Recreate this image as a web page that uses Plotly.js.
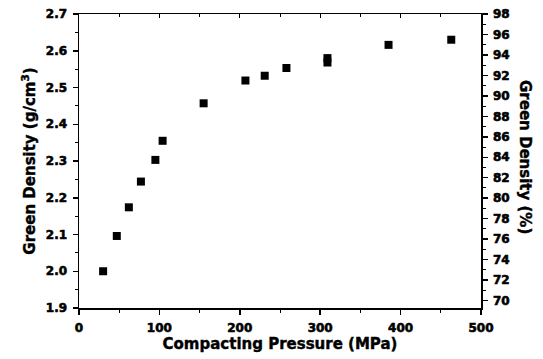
<!DOCTYPE html>
<html>
<head>
<meta charset="utf-8">
<script src="https://cdn.plot.ly/plotly-3.0.1.min.js"></script>
<style>
html,body{margin:0;padding:0;background:#fff;}
#chart{width:543px;height:359px;}
#chart text{font-weight:bold !important;}
#chart .xtick text, #chart .ytick text, #chart .y2tick text{stroke:#000;stroke-width:0.6px;}
#chart .g-xtitle text, #chart .g-ytitle text, #chart .annotation text{stroke:#000;stroke-width:0.4px;}
</style>
</head>
<body>
<div id="chart"></div>
<script>
const pressure = [30, 47, 62, 77, 95, 104, 155, 207, 231, 258, 309, 309, 385, 463];
const density  = [2.000, 2.096, 2.174, 2.244, 2.303, 2.355, 2.457, 2.519, 2.532, 2.553, 2.568, 2.580, 2.616, 2.630];
const xTicks = [0, 100, 200, 300, 400, 500];
const yTicksLeft = [1.9, 2.0, 2.1, 2.2, 2.3, 2.4, 2.5, 2.6, 2.7];
const yTicksRight = [70, 72, 74, 76, 78, 80, 82, 84, 86, 88, 90, 92, 94, 96, 98];

const FAM = 'DejaVu Sans, Verdana, sans-serif';
const F = {family: FAM, size: 12, color: '#000', weight: 'bold'};
const TF = {family: FAM, size: 15, color: '#000', weight: 'bold'};

const traces = [
  {x: pressure, y: density, type: 'scatter', mode: 'markers',
   marker: {symbol: 'square', size: 8, color: '#000'}, xaxis: 'x', yaxis: 'y', showlegend: false, hoverinfo: 'skip'},
  {x: [0], y: [80], type: 'scatter', mode: 'markers', marker: {opacity: 0}, xaxis: 'x2', yaxis: 'y2', showlegend: false, hoverinfo: 'skip'}
];

const layout = {
  width: 543, height: 359,
  margin: {l: 79, r: 62, t: 14, b: 50.5, pad: 0},
  paper_bgcolor: '#fff', plot_bgcolor: '#fff',
  font: F,
  showlegend: false,
  xaxis: {
    range: [0, 500], tickvals: xTicks, ticktext: xTicks.map(String),
    showgrid: false, zeroline: false, showline: true, linecolor: '#000', linewidth: 1.5,
    ticks: 'outside', ticklen: 5, tickwidth: 1.5, tickcolor: '#000', ticklabelstandoff: 3,
    minor: {dtick: 50, tick0: 0, ticks: 'outside', ticklen: 3, tickwidth: 1, tickcolor: '#000', showgrid: false},
    tickfont: F,
    title: {text: 'Compacting Pressure (MPa)', font: TF, standoff: 4}
  },
  xaxis2: {
    overlaying: 'x', side: 'top', range: [0, 500], dtick: 100, tick0: 0,
    showgrid: false, zeroline: false, showline: true, linecolor: '#000', linewidth: 1.5,
    ticks: 'inside', ticklen: 4, tickwidth: 1.2, tickcolor: '#000', showticklabels: false,
    minor: {dtick: 50, tick0: 0, ticks: 'inside', ticklen: 3, tickwidth: 1, tickcolor: '#000', showgrid: false}
  },
  yaxis: {
    range: [1.9, 2.7], tickvals: yTicksLeft, ticktext: yTicksLeft.map(v => v.toFixed(1)),
    showgrid: false, zeroline: false, showline: true, linecolor: '#000', linewidth: 1.5,
    ticks: 'outside', ticklen: 5, tickwidth: 1.5, tickcolor: '#000', ticklabelstandoff: 3,
    minor: {dtick: 0.05, tick0: 1.9, ticks: 'outside', ticklen: 3, tickwidth: 1, tickcolor: '#000', showgrid: false},
    tickfont: F,
    title: {text: 'Green Density (g/cm<sup>3</sup>)', font: TF, standoff: 6}
  },
  yaxis2: {
    overlaying: 'y', side: 'right', range: [69.27, 98], tickvals: yTicksRight, ticktext: yTicksRight.map(String),
    showgrid: false, zeroline: false, showline: true, linecolor: '#000', linewidth: 1.5,
    ticks: 'outside', ticklen: 5, tickwidth: 1.5, tickcolor: '#000', ticklabelstandoff: 3,
    minor: {dtick: 1, tick0: 70, ticks: 'outside', ticklen: 3, tickwidth: 1, tickcolor: '#000', showgrid: false},
    tickfont: F
  },
  annotations: [{
    text: 'Green Density (%)', textangle: 90, xref: 'paper', yref: 'paper',
    x: 1, xshift: 44, y: 0.5, yshift: 4, showarrow: false, xanchor: 'center', yanchor: 'middle',
    font: TF
  }]
};

Plotly.newPlot('chart', traces, layout, {staticPlot: true, displayModeBar: false});
</script>
</body>
</html>
